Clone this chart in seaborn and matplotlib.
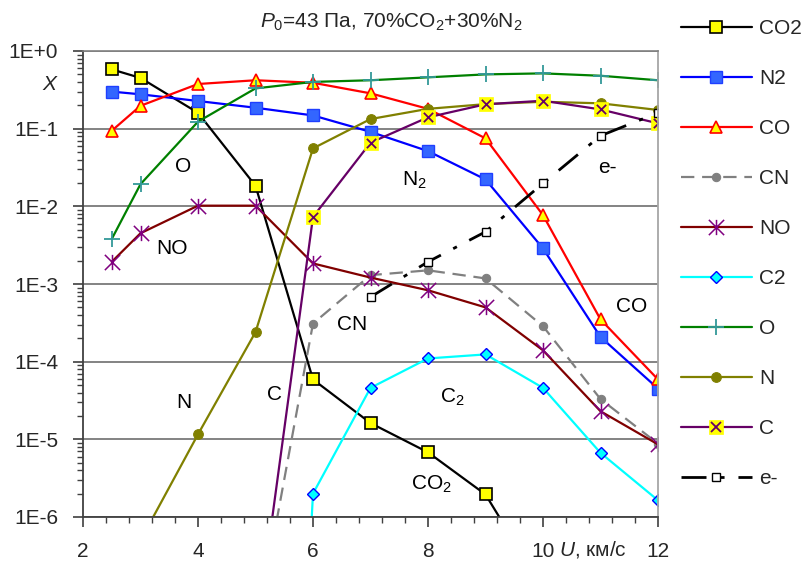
import numpy as np
import pandas as pd
import matplotlib
matplotlib.use("Agg")
import matplotlib.pyplot as plt
import seaborn as sns
from matplotlib.path import Path
from matplotlib.legend_handler import HandlerTuple
from matplotlib.lines import Line2D
from matplotlib.ticker import LogLocator, FixedLocator, NullFormatter, MultipleLocator

# ---------------- data ----------------
x_co2 = [2.5, 3, 4, 5, 6, 7, 8, 9, 10]
y_co2 = [0.58, 0.45, 0.16, 0.0184, 5.9e-5, 1.62e-5, 6.8e-6, 1.95e-6, 1.2e-7]

x_n2 = [2.5, 3, 4, 5, 6, 7, 8, 9, 10, 11, 12]
y_n2 = [0.30, 0.277, 0.227, 0.186, 0.148, 0.091, 0.0514, 0.0222, 0.00287, 2.08e-4, 4.5e-5]

x_co = [2.5, 3, 4, 5, 6, 7, 8, 9, 10, 11, 12]
y_co = [0.094, 0.197, 0.376, 0.42, 0.39, 0.285, 0.18, 0.075, 0.0077, 3.5e-4, 5.9e-5]

x_cn = [5, 6, 7, 8, 9, 10, 11, 12]
y_cn = [3e-8, 3.1e-4, 1.3e-3, 1.5e-3, 1.18e-3, 2.86e-4, 3.3e-5, 8.8e-6]

x_no = [2.5, 3, 4, 5, 6, 7, 8, 9, 10, 11, 12]
y_no = [1.93e-3, 4.5e-3, 0.0102, 0.0102, 1.84e-3, 1.21e-3, 8.3e-4, 5e-4, 1.4e-4, 2.3e-5, 8.6e-6]

x_c2 = [5, 6, 7, 8, 9, 10, 11, 12]
y_c2 = [3e-20, 2e-6, 4.6e-5, 1.1e-4, 1.24e-4, 4.6e-5, 6.7e-6, 1.64e-6]

x_o = [2.5, 3, 4, 5, 6, 7, 8, 9, 10, 11, 12]
y_o = [3.8e-3, 0.0193, 0.123, 0.33, 0.40, 0.42, 0.458, 0.50, 0.515, 0.48, 0.42]

x_n = [3, 4, 5, 6, 7, 8, 9, 10, 11, 12]
y_n = [5e-7, 1.16e-5, 2.4e-4, 0.0557, 0.133, 0.18, 0.207, 0.222, 0.212, 0.174]

x_c = [5, 6, 7, 8, 9, 10, 11, 12]
y_c = [2.5e-8, 7.3e-3, 0.066, 0.14, 0.206, 0.229, 0.177, 0.117]

x_e = [7, 8, 9, 10, 11, 12]
y_e = [6.8e-4, 1.93e-3, 4.7e-3, 0.0197, 0.081, 0.16]

series_names = ["CO2", "N2", "CO", "CN", "NO", "C2", "O", "N", "C", "e-"]

x_ticks = [2, 4, 6, 8, 10, 12]
x_ticklabels = ["2", "4", "6", "8", "10", "12"]
y_ticks = [1e-6, 1e-5, 1e-4, 1e-3, 1e-2, 1e-1, 1e0]
y_ticklabels = ["1E-6", "1E-5", "1E-4", "1E-3", "1E-2", "1E-1", "1E+0"]

title_text = r"$P_0$=43 Па, 70%CO$_2$+30%N$_2$"
annotation_texts = ["O", "NO", r"N$_2$", "e-", "CN", "CO", "N", "C", r"C$_2$", r"CO$_2$"]

# ---------------- style ----------------
sns.set_theme(style="white")
plt.rcParams["font.family"] = ["Liberation Sans", "DejaVu Sans"]
plt.rcParams["mathtext.fontset"] = "custom"
plt.rcParams["mathtext.rm"] = "Liberation Sans"
plt.rcParams["mathtext.it"] = "Liberation Sans:italic"
plt.rcParams["mathtext.bf"] = "Liberation Sans:bold"
FS = 15
W, H = 808, 562

def fx(px):
    return px / W

def fy(py):
    return 1 - py / H

fig = plt.figure(figsize=(8.08, 5.62), dpi=100)
ax = fig.add_axes([fx(83), fy(517), (658 - 83) / W, (517 - 51) / H])

star = Path([(0, -1), (0, 1), (-1, -1), (1, 1), (-1, 1), (1, -1)],
            [Path.MOVETO, Path.LINETO, Path.MOVETO, Path.LINETO, Path.MOVETO, Path.LINETO])

lw = 1.6

def draw(x, y, **kw):
    df = pd.DataFrame({"x": x, "y": y})
    sns.lineplot(data=df, x="x", y="y", ax=ax, sort=False, estimator=None, **kw)
    return ax.lines[-1]

h = {}
h["CO2"] = draw(x_co2, y_co2, color="black", lw=lw, marker="s", ms=8,
                markerfacecolor="#FFFF00", markeredgecolor="black", markeredgewidth=1.2)
h["N2"] = draw(x_n2, y_n2, color="#0000FF", lw=lw, marker="s", ms=8,
               markerfacecolor="#3366FF", markeredgecolor="#1F3FFF", markeredgewidth=1.0)
h["CO"] = draw(x_co, y_co, color="#FF0000", lw=lw, marker="^", ms=9,
               markerfacecolor="#FFFF00", markeredgecolor="#FF0000", markeredgewidth=1.2)
h["CN"] = draw(x_cn, y_cn, color="#808080", lw=lw, linestyle=(0, (6, 3.5)), marker="o", ms=6,
               markerfacecolor="#808080", markeredgecolor="#808080")
h["NO"] = draw(x_no, y_no, color="#800000", lw=lw, marker=star, ms=11,
               markerfacecolor="none", markeredgecolor="#800080", markeredgewidth=1.1)
h["C2"] = draw(x_c2, y_c2, color="#00FFFF", lw=lw, marker="D", ms=6,
               markerfacecolor="#00FFFF", markeredgecolor="#0000FF", markeredgewidth=1.0)
h["O"] = draw(x_o, y_o, color="#008000", lw=lw, marker="+", ms=12,
              markeredgecolor="#339999", markeredgewidth=1.3)
h["N"] = draw(x_n, y_n, color="#808000", lw=lw, marker="o", ms=7,
              markerfacecolor="#808000", markeredgecolor="#808000")
hc1 = draw(x_c, y_c, color="#660066", lw=lw, marker="s", ms=10,
           markerfacecolor="#FFFF00", markeredgecolor="#FFFF00", markeredgewidth=0.5)
df_c = pd.DataFrame({"x": x_c, "y": y_c})
sns.scatterplot(data=df_c, x="x", y="y", ax=ax, marker="x", s=45, color="#660066",
                linewidth=1.3, zorder=hc1.get_zorder() + 0.1)
hc2 = Line2D([], [], linestyle="none", marker="x", ms=7, markeredgecolor="#660066", markeredgewidth=1.3)
h["e-"] = draw(x_e, y_e, color="black", lw=2.0, linestyle=(0, (9, 5, 1.5, 5)), marker="s", ms=6,
               markerfacecolor="white", markeredgecolor="black", markeredgewidth=1.0)

ax.set_yscale("log")
ax.set_xlim(2, 12)
ax.set_ylim(1e-6, 1)
ax.set_xlabel("")
ax.set_ylabel("")

ax.xaxis.set_major_locator(FixedLocator(x_ticks))
ax.set_xticklabels(x_ticklabels)
ax.xaxis.set_minor_locator(MultipleLocator(0.4))
ax.yaxis.set_major_locator(FixedLocator(y_ticks))
ax.set_yticklabels(y_ticklabels)
ax.yaxis.set_minor_locator(LogLocator(base=10, subs=np.arange(2, 10), numticks=20))
ax.yaxis.set_minor_formatter(NullFormatter())

ax.tick_params(axis="both", which="major", direction="out", length=7, width=1.2,
               color="#404040", labelsize=FS, left=True, bottom=True)
ax.tick_params(axis="both", which="minor", direction="out", length=4, width=1.0,
               color="#404040", left=True, bottom=True)
ax.tick_params(axis="x", which="major", pad=11)
ax.tick_params(axis="y", which="major", pad=11)

ax.yaxis.grid(True, which="major", color="#6e6e6e", lw=1.2)
ax.xaxis.grid(False)
ax.set_axisbelow(True)
for s in ["left", "bottom"]:
    ax.spines[s].set_color("#404040")
    ax.spines[s].set_linewidth(1.3)
ax.spines["right"].set_color("#A6A6A6")
ax.spines["right"].set_linewidth(1.3)
ax.spines["top"].set_color("#808080")
ax.spines["top"].set_linewidth(1.2)

# annotation positions in figure pixels
ann_pos = [(183, 167), (172, 248), (414, 180), (607, 168), (352, 325),
           (632, 307), (184, 403), (274, 395), (452, 397), (431, 484)]
for txt, (px, py) in zip(annotation_texts, ann_pos):
    fig.text(fx(px), fy(py), txt, fontsize=FS, ha="center", va="center", color="black")

fig.text(fx(391), fy(22), title_text, fontsize=FS, ha="center", va="center")
fig.text(fx(49), fy(84), "X", fontsize=FS, style="italic", ha="center", va="center")
fig.text(fx(559), fy(549), r"$U$, км/с", fontsize=FS, ha="left", va="center")

handles = [h["CO2"], h["N2"], h["CO"], h["CN"], h["NO"], h["C2"], h["O"], h["N"], (hc1, hc2), h["e-"]]
leg = fig.legend(handles, series_names, loc="upper left", bbox_to_anchor=(fx(681), fy(19)),
                 frameon=False, fontsize=FS, handlelength=3.4, handletextpad=0.35,
                 labelspacing=1.49, borderaxespad=0, borderpad=0,
                 handler_map={tuple: HandlerTuple(ndivide=1, pad=0)})

fig.savefig("out.png", dpi=100)
